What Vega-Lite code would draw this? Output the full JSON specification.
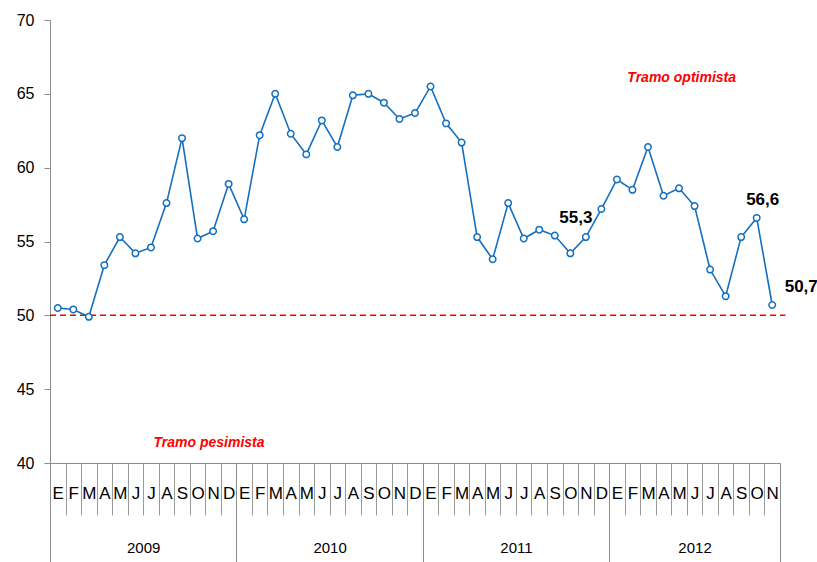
{
  "$schema": "https://vega.github.io/schema/vega-lite/v6.json",
  "autosize": "none",
  "width": 730,
  "height": 443,
  "padding": {"left": 50, "top": 20, "right": 37, "bottom": 99},
  "background": "white",
  "config": {
    "view": {"stroke": null},
    "font": "Liberation Sans",
    "locale": {"number": {"decimal": ",", "thousands": ".", "grouping": [3], "currency": ["", " €"]}}
  },
  "datasets": {
    "serie": [
      {"n": 1, "v": 50.5}, {"n": 2, "v": 50.4}, {"n": 3, "v": 49.9}, {"n": 4, "v": 53.4},
      {"n": 5, "v": 55.3}, {"n": 6, "v": 54.2}, {"n": 7, "v": 54.6}, {"n": 8, "v": 57.6},
      {"n": 9, "v": 62.0}, {"n": 10, "v": 55.2}, {"n": 11, "v": 55.7}, {"n": 12, "v": 58.9},
      {"n": 13, "v": 56.5}, {"n": 14, "v": 62.2}, {"n": 15, "v": 65.0}, {"n": 16, "v": 62.3},
      {"n": 17, "v": 60.9}, {"n": 18, "v": 63.2}, {"n": 19, "v": 61.4}, {"n": 20, "v": 64.9},
      {"n": 21, "v": 65.0}, {"n": 22, "v": 64.4}, {"n": 23, "v": 63.3}, {"n": 24, "v": 63.7},
      {"n": 25, "v": 65.5}, {"n": 26, "v": 63.0}, {"n": 27, "v": 61.7}, {"n": 28, "v": 55.3},
      {"n": 29, "v": 53.8}, {"n": 30, "v": 57.6}, {"n": 31, "v": 55.2}, {"n": 32, "v": 55.8},
      {"n": 33, "v": 55.4}, {"n": 34, "v": 54.2}, {"n": 35, "v": 55.3}, {"n": 36, "v": 57.2},
      {"n": 37, "v": 59.2}, {"n": 38, "v": 58.5}, {"n": 39, "v": 61.4}, {"n": 40, "v": 58.1},
      {"n": 41, "v": 58.6}, {"n": 42, "v": 57.4}, {"n": 43, "v": 53.1}, {"n": 44, "v": 51.3},
      {"n": 45, "v": 55.3}, {"n": 46, "v": 56.6}, {"n": 47, "v": 50.7}
    ],
    "notas": [
      {"n": 41.17, "v": 66.07, "t": "Tramo optimista"},
      {"n": 10.74, "v": 41.35, "t": "Tramo pesimista"}
    ],
    "umbral": [{"n": 0.5, "n2": 47.85, "v": 50}],
    "anios": [{"n": 0.5}, {"n": 47.5}]
  },
  "layer": [
    {
      "encoding": {
        "x": {
          "field": "n",
          "type": "quantitative",
          "scale": {"domain": [0.5, 47.5], "nice": false, "zero": false},
          "axis": {
            "orient": "bottom",
            "title": null,
            "grid": false,
            "values": [0.5,1.5,2.5,3.5,4.5,5.5,6.5,7.5,8.5,9.5,10.5,11.5,12.5,13.5,14.5,15.5,16.5,17.5,18.5,19.5,20.5,21.5,22.5,23.5,24.5,25.5,26.5,27.5,28.5,29.5,30.5,31.5,32.5,33.5,34.5,35.5,36.5,37.5,38.5,39.5,40.5,41.5,42.5,43.5,44.5,45.5,46.5],
            "labelExpr": "substring('EFMAMJJASOND', (datum.value - 0.5) % 12, (datum.value - 0.5) % 12 + 1)",
            "labelOffset": 7.766,
            "labelFlush": false,
            "labelOverlap": false,
            "labelBound": false,
            "labelFont": "Liberation Sans Narrow, Liberation Sans",
            "labelFontSize": 17,
            "labelColor": "#000000",
            "labelBaseline": "middle",
            "labelPadding": -22,
            "tickSize": 52,
            "tickColor": "#9a9a9a",
            "tickWidth": 1,
            "domainColor": "#8c8c8c",
            "domainWidth": 1
          }
        },
        "y": {
          "field": "v",
          "type": "quantitative",
          "scale": {"domain": [40, 70], "nice": false, "zero": false},
          "axis": {
            "title": null,
            "grid": false,
            "values": [40, 45, 50, 55, 60, 65, 70],
            "tickSize": 6,
            "tickColor": "#8c8c8c",
            "domainColor": "#8c8c8c",
            "labelPadding": 10,
            "labelFontSize": 16,
            "labelColor": "#000000"
          }
        }
      },
      "layer": [
        {
          "data": {"name": "umbral"},
          "mark": {"type": "rule", "color": "#ff0000", "strokeWidth": 1.5, "strokeDash": [6, 4]},
          "encoding": {"x2": {"field": "n2"}}
        },
        {
          "data": {"name": "serie"},
          "mark": {"type": "line", "color": "#136fc0", "strokeWidth": 1.6}
        },
        {
          "data": {"name": "serie"},
          "mark": {"type": "point", "filled": true, "fill": "white", "stroke": "#136fc0", "strokeWidth": 1.5, "size": 42, "opacity": 1}
        },
        {
          "data": {"name": "serie"},
          "transform": [{"filter": "datum.n == 35"}],
          "mark": {"type": "text", "fontSize": 17, "fontWeight": "bold", "color": "#000000", "dx": -10, "dy": -19},
          "encoding": {"text": {"field": "v", "type": "quantitative", "format": ".1f"}}
        },
        {
          "data": {"name": "serie"},
          "transform": [{"filter": "datum.n == 46"}],
          "mark": {"type": "text", "fontSize": 17, "fontWeight": "bold", "color": "#000000", "dx": 6, "dy": -18},
          "encoding": {"text": {"field": "v", "type": "quantitative", "format": ".1f"}}
        },
        {
          "data": {"name": "serie"},
          "transform": [{"filter": "datum.n == 47"}],
          "mark": {"type": "text", "fontSize": 17, "fontWeight": "bold", "color": "#000000", "dx": 29, "dy": -18},
          "encoding": {"text": {"field": "v", "type": "quantitative", "format": ".1f"}}
        },
        {
          "data": {"name": "notas"},
          "mark": {"type": "text", "fontSize": 14, "fontWeight": "bold", "fontStyle": "italic", "color": "#ff0000"},
          "encoding": {"text": {"field": "t", "type": "nominal"}}
        }
      ]
    },
    {
      "data": {"name": "anios"},
      "mark": {"type": "point", "opacity": 0},
      "encoding": {
        "x": {
          "field": "n",
          "type": "quantitative",
          "scale": {"domain": [0.5, 47.5], "nice": false, "zero": false},
          "axis": {
            "orient": "bottom",
            "title": null,
            "grid": false,
            "domain": false,
            "values": [0.5, 12.5, 24.5, 36.5, 47.5],
            "labelExpr": "datum.value < 12 ? '2009' : datum.value < 24 ? '2010' : datum.value < 36 ? '2011' : datum.value < 47 ? '2012' : ''",
            "labelOffset": {"condition": {"test": "datum.value == 36.5", "value": 85.4}, "value": 93.2},
            "labelFlush": false,
            "labelOverlap": false,
            "labelBound": false,
            "labelFontSize": 15,
            "labelColor": "#000000",
            "labelBaseline": "middle",
            "labelPadding": -15,
            "tickSize": 99,
            "tickColor": "#8c8c8c",
            "tickWidth": 1
          }
        }
      }
    }
  ],
  "resolve": {"scale": {"x": "independent"}}
}
